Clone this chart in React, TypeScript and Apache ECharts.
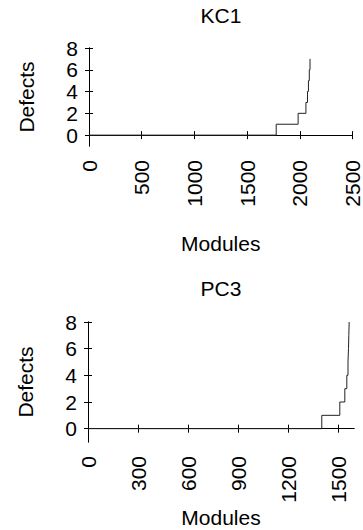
import React, { useEffect, useRef } from "react";
import * as echarts from "echarts";

// KC1: module rank at which the (sorted) defect count steps up, and the new count
const kc1Modules = [0, 1776, 1984, 2058, 2073, 2082, 2090, 2097];
const kc1Defects = [0, 1, 2, 3, 4, 5, 6, 7];
const kc1XTicks = [0, 500, 1000, 1500, 2000, 2500];

// PC3
const pc3Modules = [0, 1400, 1508, 1538, 1550, 1557, 1560, 1562, 1564];
const pc3Defects = [0, 1, 2, 3, 4, 5, 6, 7, 8];
const pc3XTicks = [0, 300, 600, 900, 1200, 1500];

const yTicks = [0, 2, 4, 6, 8];
const titles = ["KC1", "PC3"];
const xName = "Modules";
const yName = "Defects";

const FONT = "'Liberation Sans', Arial, sans-serif";
const FS = 21;

export default function App() {
  const ref = useRef<HTMLDivElement>(null);
  useEffect(() => {
    if (!ref.current) return;
    const chart = echarts.init(ref.current, null, { renderer: "svg" });
    const grids = [
      { left: 89, top: 48, right: 9, height: 98 },
      { left: 88, top: 322, right: 9, height: 120 },
    ];
    const xMax = [2500, 1593];
    const xTickSets = [kc1XTicks, pc3XTicks];
    const txt = { fontFamily: FONT, fontSize: FS, color: "#000" };
    const line = { show: true, lineStyle: { color: "#000", width: 1 } };
    const fmt = (v: number) => String(v);

    const xAxis: any[] = [];
    const yAxis: any[] = [];
    [0, 1].forEach((g) => {
      xAxis.push({
        type: "value",
        gridIndex: g,
        min: 0,
        max: xMax[g],
        position: "bottom",
        axisLine: line,
        axisTick: { show: true, inside: true, length: 4, customValues: xTickSets[g], lineStyle: { color: "#000" } },
        axisLabel: { ...txt, rotate: 90, margin: 14, customValues: xTickSets[g], formatter: fmt },
        splitLine: { show: false },
        name: xName,
        nameLocation: "middle",
        nameGap: g === 0 ? 87 : 65,
        nameTextStyle: txt,
      });
      xAxis.push({
        type: "value",
        gridIndex: g,
        min: 0,
        max: xMax[g],
        position: "top",
        axisLine: line,
        axisTick: { show: true, inside: true, length: 4, customValues: xTickSets[g], lineStyle: { color: "#000" } },
        axisLabel: { show: false },
        splitLine: { show: false },
      });
      yAxis.push({
        type: "value",
        gridIndex: g,
        min: -1,
        max: 8,
        position: "left",
        axisLine: line,
        axisTick: { show: true, inside: true, length: 4, customValues: yTicks, lineStyle: { color: "#000" } },
        axisLabel: { ...txt, margin: 11, customValues: yTicks, formatter: fmt },
        splitLine: { show: false },
        name: yName,
        nameLocation: "middle",
        nameGap: 52,
        nameTextStyle: txt,
      });
      yAxis.push({
        type: "value",
        gridIndex: g,
        min: -1,
        max: 8,
        position: "right",
        axisLine: line,
        axisTick: { show: true, inside: true, length: 4, customValues: yTicks, lineStyle: { color: "#000" } },
        axisLabel: { show: false },
        splitLine: { show: false },
      });
    });

    const mk = (mods: number[], defs: number[]) => mods.map((m, i) => [m, defs[i]]);

    chart.setOption({
      animation: false,
      backgroundColor: "#fff",
      title: [
        { text: titles[0], left: 221, top: 5, textAlign: "center", padding: 0, textStyle: { ...txt, fontWeight: "normal" } },
        { text: titles[1], left: 221, top: 278, textAlign: "center", padding: 0, textStyle: { ...txt, fontWeight: "normal" } },
      ],
      grid: grids,
      xAxis,
      yAxis,
      series: [
        {
          type: "line",
          xAxisIndex: 0,
          yAxisIndex: 0,
          step: "end",
          showSymbol: false,
          data: mk(kc1Modules, kc1Defects),
          lineStyle: { color: "#222", width: 1 },
        },
        {
          type: "line",
          xAxisIndex: 2,
          yAxisIndex: 2,
          step: "end",
          showSymbol: false,
          data: mk(pc3Modules, pc3Defects),
          lineStyle: { color: "#222", width: 1 },
        },
      ],
    });
    return () => chart.dispose();
  }, []);
  return (
    <div
      ref={ref}
      style={{ position: "fixed", left: 0, top: 0, width: 363, height: 530 }}
    />
  );
}
